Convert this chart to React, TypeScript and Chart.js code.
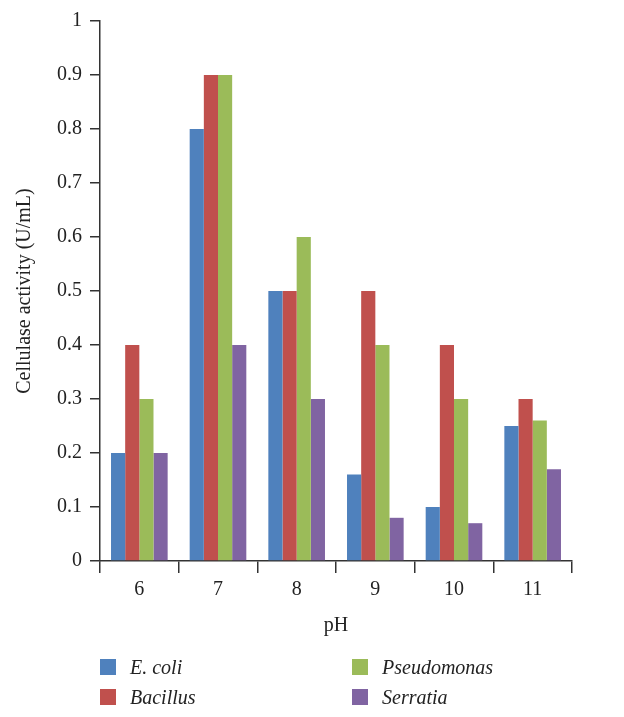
import React, { useEffect, useRef } from "react";
import { Chart, registerables } from "chart.js";

Chart.register(...registerables);

const categories = ["6", "7", "8", "9", "10", "11"];
const seriesNames = ["E. coli", "Bacillus", "Pseudomonas", "Serratia"];
const ecoli = [0.2, 0.8, 0.5, 0.16, 0.1, 0.25];
const bacillus = [0.4, 0.9, 0.5, 0.5, 0.4, 0.3];
const pseudomonas = [0.3, 0.9, 0.6, 0.4, 0.3, 0.26];
const serratia = [0.2, 0.4, 0.3, 0.08, 0.07, 0.17];
const colors = ["#4F81BD", "#C0504D", "#9BBB59", "#8064A2"];
const yTitle = "Cellulase activity (U/mL)";
const xTitle = "pH";

const FONT = "'Liberation Serif', 'Times New Roman', serif";

export default function App() {
  const ref = useRef<HTMLCanvasElement | null>(null);

  useEffect(() => {
    document.body.style.margin = "0";
    const ctx = ref.current!.getContext("2d")!;
    const values = [ecoli, bacillus, pseudomonas, serratia];
    const chart = new Chart(ctx, {
      type: "bar",
      data: {
        labels: categories,
        datasets: seriesNames.map((n, i) => ({
          label: n,
          data: values[i],
          backgroundColor: colors[i],
          borderWidth: 0,
          categoryPercentage: 0.72,
          barPercentage: 1.0,
        })),
      },
      options: {
        responsive: false,
        animation: false,
        layout: { padding: { left: 4, top: 21, right: 52, bottom: 76 } },
        plugins: { legend: { display: false }, tooltip: { enabled: false } },
        scales: {
          x: {
            grid: {
              display: true,
              drawOnChartArea: false,
              drawTicks: true,
              tickLength: 12,
              color: "#333",
              lineWidth: 1.5,
              offset: true,
            },
            border: { display: true, color: "#333", width: 1.5 },
            ticks: { color: "#222", font: { family: FONT, size: 20 }, padding: 5 },
            title: {
              display: true,
              text: xTitle,
              color: "#222",
              font: { family: FONT, size: 20 },
              padding: { top: 6, bottom: 3 },
            },
            afterFit: (s: any) => {
              s.height = 80;
            },
          },
          y: {
            min: 0,
            max: 1,
            ticks: {
              stepSize: 0.1,
              color: "#222",
              font: { family: FONT, size: 20 },
              padding: 8,
              callback: (v: any) => Number(Number(v).toFixed(1)).toString(),
            },
            grid: {
              display: true,
              drawOnChartArea: false,
              drawTicks: true,
              tickLength: 10,
              color: "#333",
              lineWidth: 1.5,
            },
            border: { display: true, color: "#333", width: 1.5 },
            title: {
              display: true,
              text: yTitle,
              color: "#222",
              font: { family: FONT, size: 20 },
              padding: { top: 9, bottom: 4 },
            },
            afterFit: (s: any) => {
              s.width = 96;
            },
          },
        },
      },
    });
    return () => chart.destroy();
  }, []);

  const legendPos = [
    { left: 100, top: 659 },
    { left: 100, top: 689 },
    { left: 352, top: 659 },
    { left: 352, top: 689 },
  ];

  return (
    <div style={{ position: "relative", width: 624, height: 717, background: "#fff" }}>
      <canvas ref={ref} width={624} height={717} style={{ display: "block" }} />
      {seriesNames.map((n, i) => (
        <div
          key={n}
          style={{
            position: "absolute",
            left: legendPos[i].left,
            top: legendPos[i].top,
            display: "flex",
            alignItems: "center",
            fontFamily: FONT,
            fontStyle: "italic",
            fontSize: 20,
            color: "#222",
            lineHeight: "16px",
          }}
        >
          <span
            style={{
              display: "inline-block",
              width: 16,
              height: 16,
              background: colors[i],
              marginRight: 14,
            }}
          />
          <span>{n}</span>
        </div>
      ))}
    </div>
  );
}
